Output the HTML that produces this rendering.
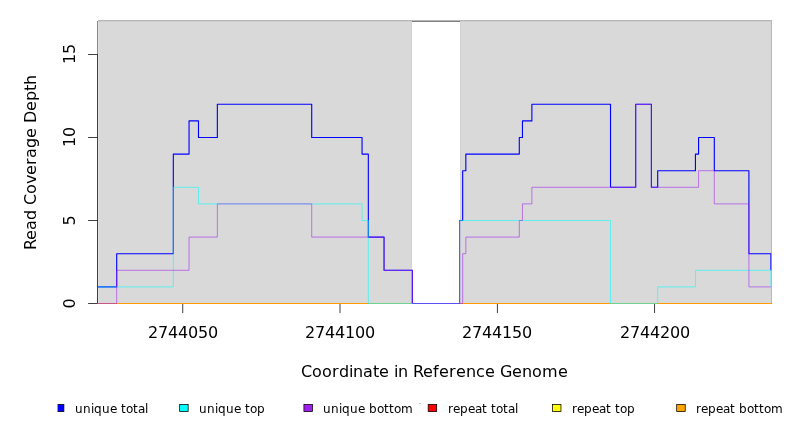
<!DOCTYPE html>
<html lang="en"><head><meta charset="utf-8"><title>Read Coverage Depth</title>
<style>html,body{margin:0;padding:0;background:#fff;width:792px;height:432px;overflow:hidden}svg{display:block}text{font-family:'DejaVu Sans','Liberation Sans',sans-serif;fill:#000;white-space:pre}</style></head><body>
<svg width="792" height="432" viewBox="0 0 792 432">
<rect width="792" height="432" fill="#fff"/>
<defs><clipPath id="pc"><rect x="97.5" y="20.5" width="674.0" height="284.0"/></clipPath><clipPath id="lc"><rect x="57.6" y="380" width="740" height="52"/></clipPath></defs>
<g shape-rendering="crispEdges">
<rect x="98" y="21" width="314" height="283" fill="#d9d9d9"/>
<rect x="460" y="21" width="311" height="283" fill="#d9d9d9"/>
<rect x="98" y="20" width="674" height="1" fill="#b6b6b6"/>
<rect x="98" y="21" width="314" height="1" fill="#cdcdcd"/>
<rect x="460" y="21" width="311" height="1" fill="#cdcdcd"/>
<rect x="412" y="21" width="48" height="1" fill="#808080"/>
<rect x="771" y="21" width="1" height="283" fill="#b9b9b9"/>
<rect x="97" y="21" width="1" height="34" fill="#878787"/>
<rect x="98" y="22" width="1" height="282" fill="#e1e1e1"/>
<rect x="411" y="22" width="1" height="282" fill="#d3d3d3"/>
<rect x="460" y="22" width="1" height="282" fill="#d3d3d3"/>
<rect x="771" y="303" width="1" height="1" fill="#e67864"/>
</g>
<g stroke="#000" stroke-width="0.75" fill="none">
<path d="M97.5 54.5V303.5"/>
<path d="M88.1 303.5H97.5"/>
<path d="M88.1 220.5H97.5"/>
<path d="M88.1 137.5H97.5"/>
<path d="M88.1 54.5H97.5"/>
<path d="M182.72 303.5V313.1"/>
<path d="M340.0 303.5V313.1"/>
<path d="M497.42 303.5V313.1"/>
<path d="M654.55 303.5V313.1"/>
</g>
<g clip-path="url(#pc)" fill="none" stroke-linejoin="round" stroke-linecap="butt">
<path d="M97.83 303.56H770.92" stroke="#ff0000" stroke-width="1.12"/>
<path d="M97.83 303.56H770.92" stroke="#ff9a00" stroke-width="1.12"/>
<path d="M97.83 286.9H116.7V253.7H173.32V154.1H189.04V120.9H198.48V137.5H217.35V104.3H311.71V137.5H362.04V154.1H368.33V237.1H384.05V270.3H412.36V303.5H459.54V220.5H462.68V170.7H465.83V154.1H519.3V137.5H522.45V120.9H531.88V104.3H610.51V187.3H635.68V104.3H651.4V187.3H657.69V170.7H695.44V154.1H698.58V137.5H714.31V170.7H748.91V253.7H770.92V270.3" stroke="#0000ff" stroke-width="1.125"/>
<path d="M97.83 286.9H173.32V187.3H198.48V203.9H362.04V220.5H368.33V303.5H459.54V220.5H610.51V303.5H657.69V286.9H695.44V270.3H770.92V286.9" stroke="#00ffff" stroke-width="0.5625"/>
<path d="M97.83 303.5H116.7V270.3H189.04V237.1H217.35V203.9H311.71V237.1H384.05V270.3H412.36V303.5H462.68V253.7H465.83V237.1H519.3V220.5H522.45V203.9H531.88V187.3H635.68V104.3H651.4V187.3H698.58V170.7H714.31V203.9H748.91V286.9H770.92" stroke="#a020f0" stroke-width="0.5625"/>
</g>
<text x="148 158.0 168.0 178.0 188.0 198.0 208.0" y="338" font-size="16">2744050</text>
<text x="305 315.0 325.0 335.0 345.0 355.0 365.0" y="338" font-size="16">2744100</text>
<text x="462 472.0 482.0 492.0 502.0 512.0 522.0" y="338" font-size="16">2744150</text>
<text x="620 630.0 640.0 650.0 660.0 670.0 680.0" y="338" font-size="16">2744200</text>
<text transform="translate(75 303.5) rotate(-90)" x="-5" y="0" font-size="16">0</text>
<text transform="translate(75 220.5) rotate(-90)" x="-5" y="0" font-size="16">5</text>
<text transform="translate(75 137.5) rotate(-90)" x="-9.4 0.6" y="0" font-size="16">10</text>
<text transform="translate(75 54.5) rotate(-90)" x="-9.4 0.6" y="0" font-size="16">15</text>
<text x="301 312.0 322.0 332.0 339.0 349.0 353.0 363.0 373.0 379.0 389.0 394.0 398.0 408.0 413.0 423.0 433.0 439.0 449.0 456.0 466.0 476.0 485.0 495.0 500.0 512.0 522.0 532.0 542.0 558.0" y="377" font-size="16">Coordinate in Reference Genome</text>
<text transform="translate(36.4 162) rotate(-90)" x="-88 -78.0 -68.0 -58.0 -48.0 -43.0 -32.0 -22.0 -13.0 -3.0 4.0 14.0 24.0 34.0 39.0 51.0 61.0 71.0 77.0" y="0" font-size="16">Read Coverage Depth</text>
<g clip-path="url(#lc)">
<rect x="55.4" y="404.4" width="8.5" height="7.2" fill="#0000ff" stroke="#000" stroke-width="0.75"/>
<text x="75 83.0 91.0 94.0 102.0 110.0 117.0 121.0 126.0 133.0 138.0 145.0" y="413" font-size="12">unique total</text>
<rect x="179.66" y="404.4" width="8.5" height="7.2" fill="#00ffff" stroke="#000" stroke-width="0.75"/>
<text x="199 207.0 215.0 218.0 226.0 234.0 241.0 245.0 250.0 257.0" y="413" font-size="12">unique top</text>
<rect x="303.92" y="404.4" width="8.5" height="7.2" fill="#a020f0" stroke="#000" stroke-width="0.75"/>
<text x="323 331.0 339.0 342.0 350.0 358.0 365.0 369.0 377.0 384.0 389.0 394.0 401.0" y="413" font-size="12">unique bottom</text>
<rect x="428.18" y="404.4" width="8.5" height="7.2" fill="#ff0000" stroke="#000" stroke-width="0.75"/>
<text x="448 453.0 460.0 468.0 475.0 482.0 487.0 491.0 496.0 503.0 508.0 515.0" y="413" font-size="12">repeat total</text>
<rect x="552.44" y="404.4" width="8.5" height="7.2" fill="#ffff00" stroke="#000" stroke-width="0.75"/>
<text x="572 577.0 584.0 592.0 599.0 606.0 611.0 615.0 620.0 627.0" y="413" font-size="12">repeat top</text>
<rect x="676.7" y="404.4" width="8.5" height="7.2" fill="#ffa500" stroke="#000" stroke-width="0.75"/>
<text x="696 701.0 708.0 716.0 723.0 730.0 735.0 739.0 747.0 754.0 759.0 764.0 771.0" y="413" font-size="12">repeat bottom</text>
</g>
<rect x="419" y="403" width="2" height="1" fill="#c6c6c6" shape-rendering="crispEdges"/>
</svg></body></html>
